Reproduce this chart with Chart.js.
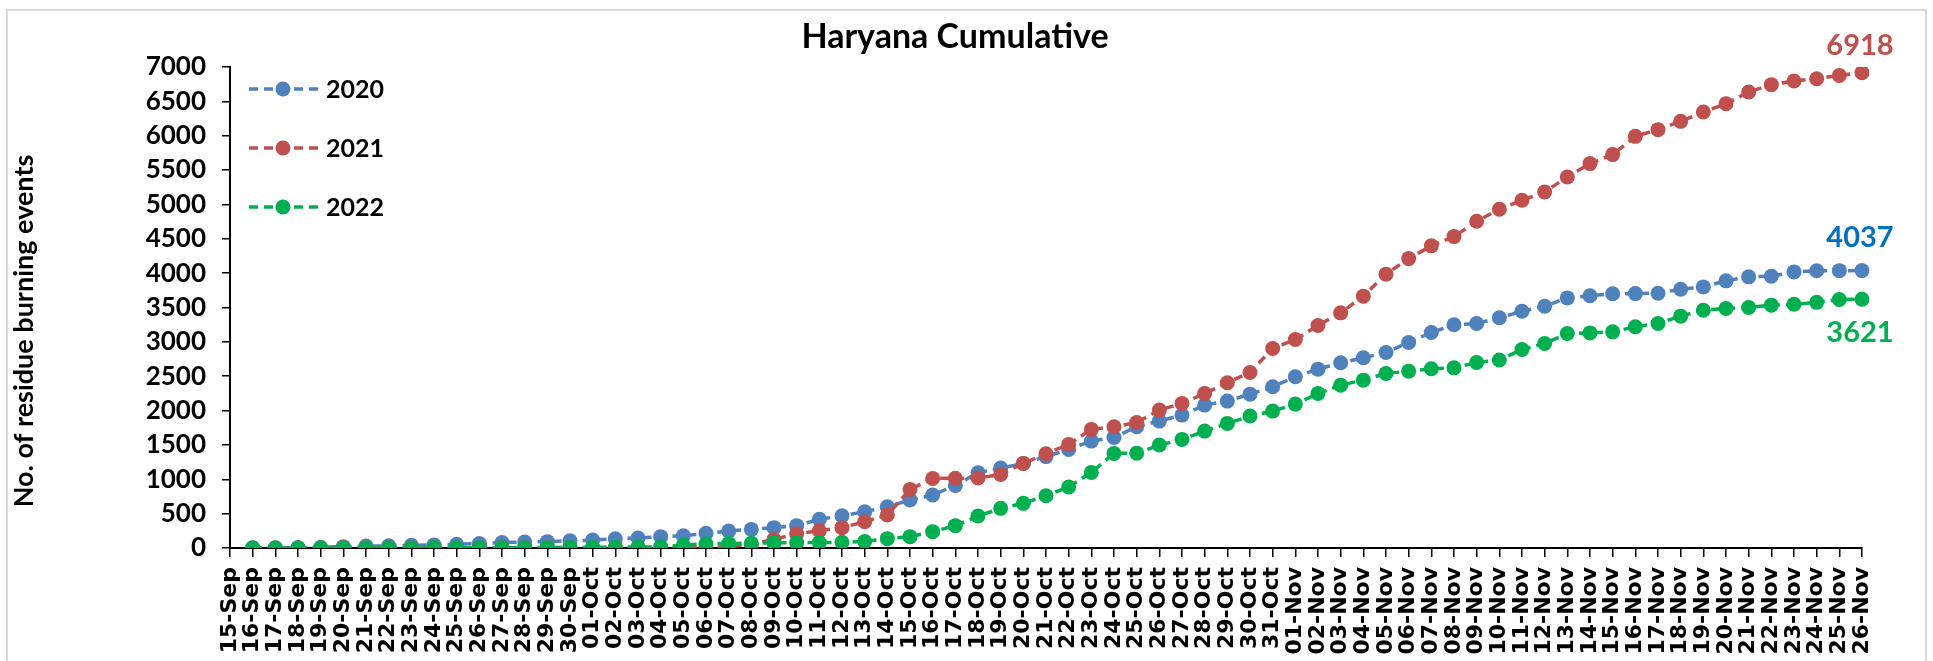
<!DOCTYPE html>
<html>
<head>
<meta charset="utf-8">
<script src="https://cdn.jsdelivr.net/npm/chart.js"></script>
<style>
  html, body { margin: 0; padding: 0; background: #fff; }
  #wrap { position: relative; width: 1933px; height: 661px; overflow: hidden; }
  #frame { position: absolute; left: 6px; top: 9px; width: 1921px; height: 670px; border: 2px solid #d9d9d9; box-sizing: border-box; pointer-events: none; }
  canvas { position: absolute; left: 0; top: 0; }
</style>
</head>
<body>
<div id="wrap">
  <canvas id="chart" width="1933" height="661"></canvas>
  <div id="frame"></div>
</div>
<script>
const labels = [
  "15-Sep", "16-Sep", "17-Sep", "18-Sep", "19-Sep", "20-Sep", "21-Sep", "22-Sep", "23-Sep", "24-Sep",
  "25-Sep", "26-Sep", "27-Sep", "28-Sep", "29-Sep", "30-Sep",
  "01-Oct", "02-Oct", "03-Oct", "04-Oct", "05-Oct", "06-Oct", "07-Oct", "08-Oct", "09-Oct", "10-Oct",
  "11-Oct", "12-Oct", "13-Oct", "14-Oct", "15-Oct", "16-Oct", "17-Oct", "18-Oct", "19-Oct", "20-Oct",
  "21-Oct", "22-Oct", "23-Oct", "24-Oct", "25-Oct", "26-Oct", "27-Oct", "28-Oct", "29-Oct", "30-Oct", "31-Oct",
  "01-Nov", "02-Nov", "03-Nov", "04-Nov", "05-Nov", "06-Nov", "07-Nov", "08-Nov", "09-Nov", "10-Nov",
  "11-Nov", "12-Nov", "13-Nov", "14-Nov", "15-Nov", "16-Nov", "17-Nov", "18-Nov", "19-Nov", "20-Nov",
  "21-Nov", "22-Nov", "23-Nov", "24-Nov", "25-Nov", "26-Nov"
];

// 15-Sep has no marker in the original, so it stays empty
const values2020 = [
  null,
  2, 4, 6, 10, 20, 28, 32, 40, 45, 55, 65, 80, 88, 92, 105,
  115, 135, 145, 165, 178, 213, 247, 271, 296, 325, 417, 470, 528, 601, 698,
  771, 911, 1095, 1163, 1231, 1330, 1435, 1556, 1609, 1764, 1847, 1934, 2080, 2138, 2239, 2346,
  2492, 2603, 2695, 2768, 2845, 2991, 3136, 3248, 3267, 3350, 3446, 3519, 3640, 3670, 3700,
  3702, 3708, 3766, 3800, 3888, 3946, 3955, 4018, 4035, 4036, 4037
];
const values2021 = [
  null,
  0, 0, 1, 1, 2, 2, 3, 3, 4, 4, 5, 5, 6, 6, 7,
  7, 8, 8, 9, 10, 12, 20, 55, 125, 208, 252, 296, 383, 480, 853,
  1013, 1015, 1018, 1071, 1231, 1372, 1508, 1726, 1764, 1827, 2007, 2104, 2249, 2404, 2555, 2904,
  3034, 3238, 3422, 3665, 3985, 4212, 4397, 4532, 4755, 4930, 5061, 5182, 5400, 5594, 5725,
  5991, 6088, 6209, 6345, 6466, 6636, 6743, 6796, 6830, 6878, 6918
];
const values2022 = [
  null,
  0, 0, 0, 0, 0, 1, 1, 1, 2, 2, 3, 3, 4, 5, 6,
  8, 10, 13, 18, 40, 62, 66, 70, 75, 78, 80, 82, 95, 136, 165,
  238, 325, 465, 577, 650, 761, 887, 1100, 1377, 1380, 1498, 1580, 1701, 1813, 1920, 1992,
  2094, 2249, 2370, 2443, 2540, 2574, 2608, 2622, 2700, 2735, 2889, 2976, 3122, 3130, 3146,
  3219, 3267, 3374, 3461, 3485, 3500, 3534, 3548, 3575, 3616, 3621
];

const seriesNames = ["2020", "2021", "2022"];
const lineColors = ["#4f81bd", "#c0504d", "#00b050"];
const endLabelColors = ["#0070c0", "#c0504d", "#00b050"];
const endLabelOffsets = [-33, -27, 33];

const chartTitle = "Haryana Cumulative";
const yTitle = "No. of residue burning events";

const calibriLike = "Lato";

// title, y title, legend and the last-value labels
const extras = {
  id: "extras",
  afterDatasetsDraw(chart) {
    const ctx = chart.ctx;
    const area = chart.chartArea;
    ctx.save();
    ctx.fillStyle = "#000";
    ctx.textAlign = "center";
    ctx.textBaseline = "middle";
    ctx.font = "bold 34px " + calibriLike;
    ctx.fillText(chartTitle, 955, 37);

    ctx.save();
    ctx.translate(24, 331);
    ctx.rotate(-Math.PI / 2);
    ctx.font = "bold 27px " + calibriLike;
    ctx.fillText(yTitle, 0, 0);
    ctx.restore();

    chart.data.datasets.forEach((ds, i) => {
      const y = area.top + 22 + i * 59;
      const x0 = area.left + 19;
      ctx.strokeStyle = ds.borderColor;
      ctx.lineWidth = 3.5;
      ctx.setLineDash([9, 6]);
      ctx.beginPath();
      ctx.moveTo(x0, y);
      ctx.lineTo(x0 + 70, y);
      ctx.stroke();
      ctx.setLineDash([]);
      ctx.fillStyle = ds.borderColor;
      ctx.beginPath();
      ctx.arc(x0 + 34, y, 7.5, 0, Math.PI * 2);
      ctx.fill();
      ctx.fillStyle = "#000";
      ctx.textAlign = "left";
      ctx.font = "bold 25px " + calibriLike;
      ctx.fillText(ds.label, x0 + 77, y + 1);

      const meta = chart.getDatasetMeta(i);
      const last = meta.data.length - 1;
      const pt = meta.data[last];
      ctx.textAlign = "center";
      ctx.fillStyle = endLabelColors[i];
      ctx.font = "bold 29px " + calibriLike;
      ctx.fillText(String(ds.data[last]), pt.x - 2, pt.y + endLabelOffsets[i]);
    });
    ctx.restore();
  }
};

const allValues = [values2020, values2021, values2022];

new Chart(document.getElementById("chart"), {
  type: "line",
  data: {
    labels: labels,
    datasets: allValues.map((vals, i) => ({
      label: seriesNames[i],
      data: vals,
      borderColor: lineColors[i],
      backgroundColor: lineColors[i],
      pointBackgroundColor: lineColors[i],
      pointBorderWidth: 0,
      pointRadius: 7.5,
      pointHoverRadius: 7.5,
      borderWidth: 3.5,
      borderDash: [9, 6],
      fill: false,
      tension: 0,
      order: 2 - i,
    })),
  },
  options: {
    responsive: false,
    animation: false,
    devicePixelRatio: 1,
    layout: {
      padding: { top: 67, right: 71, left: 0, bottom: 0 },
    },
    plugins: {
      legend: { display: false },
      title: { display: false },
      tooltip: { enabled: false },
    },
    scales: {
      x: {
        offset: false,
        grid: {
          drawOnChartArea: false,
          drawTicks: true,
          tickLength: 9,
          color: "#000",
          lineWidth: 1.5,
        },
        border: { color: "#000", width: 2 },
        ticks: {
          autoSkip: false,
          minRotation: 90,
          maxRotation: 90,
          padding: 10,
          color: "#000",
          font: { family: "DejaVu Sans", weight: "bold", size: 22 },
        },
        afterFit: (scale) => {
          scale.height = 113;
        },
      },
      y: {
        min: 0,
        max: 7000,
        ticks: {
          stepSize: 500,
          padding: 16,
          color: "#000",
          font: { family: calibriLike, weight: "bold", size: 26 },
          callback: (v) => String(v),
        },
        grid: {
          drawOnChartArea: false,
          tickLength: 8,
          color: "#000",
          lineWidth: 1.5,
        },
        border: { color: "#000", width: 2 },
        afterFit: (scale) => {
          scale.width = 230;
        },
      },
    },
  },
  plugins: [extras],
});
</script>
</body>
</html>
